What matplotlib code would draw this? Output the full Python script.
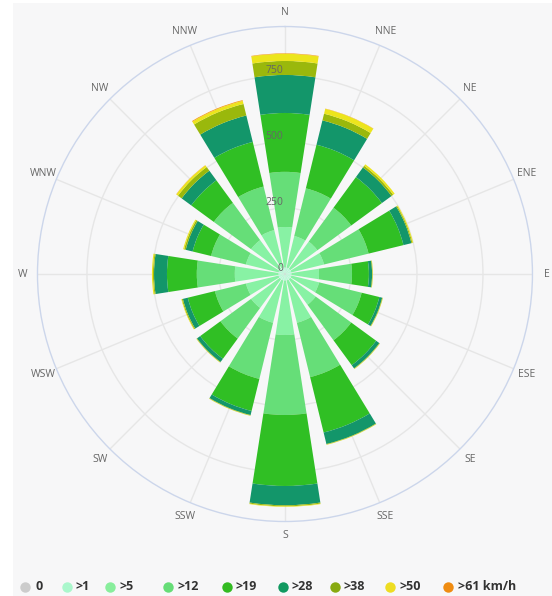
import numpy as np
import matplotlib
matplotlib.use('Agg')
import matplotlib.pyplot as plt
from matplotlib.lines import Line2D
from matplotlib.patches import Rectangle
from matplotlib import transforms

plt.rcParams['font.family'] = ['Open Sans', 'DejaVu Sans']

directions = ['N', 'NNE', 'NE', 'ENE', 'E', 'ESE', 'SE', 'SSE',
              'S', 'SSW', 'SW', 'WSW', 'W', 'WNW', 'NW', 'NNW']

# counts per speed class (km/h), one value per direction
speed_0 = [3, 3, 3, 3, 3, 3, 3, 3, 3, 3, 3, 3, 3, 3, 3, 3]
speed_1 = [22, 22, 22, 22, 22, 22, 22, 22, 22, 22, 22, 22, 22, 22, 22, 22]
speed_5 = [153, 123, 127, 127, 104, 108, 119, 165, 206, 165, 134, 127, 165, 127, 134, 146]
speed_12 = [209, 186, 159, 174, 125, 166, 167, 212, 303, 219, 144, 121, 144, 136, 175, 170]
speed_19 = [223, 170, 144, 136, 64, 69, 117, 216, 269, 125, 95, 106, 113, 72, 106, 174]
speed_28 = [144, 95, 45, 31, 12, 11, 15, 45, 73, 16, 15, 19, 49, 27, 45, 103]
speed_38 = [53, 26, 8, 4, 2, 2, 2, 2, 4, 2, 2, 4, 4, 6, 17, 45]
speed_50 = [27, 19, 7, 3, 1, 1, 1, 1, 2, 1, 1, 2, 4, 4, 8, 12]
speed_61 = [2, 1, 0, 0, 0, 0, 0, 0, 0, 0, 0, 0, 0, 0, 1, 3]

series = [speed_0, speed_1, speed_5, speed_12, speed_19, speed_28, speed_38, speed_50, speed_61]
names = ['0', '>1', '>5', '>12', '>19', '>28', '>38', '>50', '>61 km/h']
colors = ['#cccccc', '#b8fbd8', '#88f2a4', '#66de78', '#30bf24', '#13966a', '#9ab80c', '#ece51c', '#f39c12']
legend_colors = ['#cccccc', '#aaf7cc', '#88ee9c', '#66dd77', '#33bb22', '#119960', '#88aa11', '#eedd22', '#ef8c12']

rmax = 937.5
fig = plt.figure(figsize=(5.52, 5.96), dpi=100)
fig.patch.set_facecolor('white')
fig.add_artist(Rectangle((13 / 552, 0), 1, 1 - 3 / 596, transform=fig.transFigure,
                         facecolor='#f7f7f8', edgecolor='none', zorder=-10))

ax = fig.add_axes([0.0679, 0.1250, 0.8967, 0.8305], projection='polar')
ax.set_facecolor('none')
ax.set_theta_zero_location('N')
ax.set_theta_direction(-1)
ax.set_ylim(0, rmax)

theta = np.radians(np.arange(16) * 22.5)
ax.set_xticks(theta)
ax.set_xticklabels([])
ax.set_yticks([250, 500, 750])
ax.set_yticklabels([])
ax.tick_params(length=0)
ax.grid(True, color='#e6e6e6', lw=1)
ax.set_axisbelow(True)
ax.spines['polar'].set_color('#ccd6eb')
ax.spines['polar'].set_linewidth(1)

width = np.radians(17.6)
bottom = np.zeros(16)
for vals, c in zip(series, colors):
    vals = np.array(vals, dtype=float)
    ax.bar(theta, vals, width=width, bottom=bottom, color=c, edgecolor='none', zorder=3)
    bottom += vals

for t, lab in zip(theta, directions):
    ax.text(t, rmax * 262 / 247.5, lab, ha='center', va='center',
            fontsize=7.5, color='#666666', clip_on=False)

off = transforms.offset_copy(ax.transData, fig=fig, x=-2, y=6, units='dots')
for r in [0, 250, 500, 750]:
    ax.text(0, r, str(r), ha='right', va='center', fontsize=7.5,
            color='#666666', transform=off, zorder=5)

marker_x = [25, 67, 110, 168, 227, 283, 335, 390, 448]
label_x = [36, 76, 119, 177, 236, 292, 344, 399, 458]
ly = 1 - 587 / 596
for mx, tx, c, n in zip(marker_x, label_x, legend_colors, names):
    fig.add_artist(Line2D([mx / 552], [ly], marker='o', markersize=7.5, color=c,
                          markeredgecolor='none', transform=fig.transFigure))
    fig.text(tx / 552, ly, n, ha='left', va='center', fontsize=9,
             fontweight='bold', color='#333333')

fig.savefig('out.png', dpi=100)
